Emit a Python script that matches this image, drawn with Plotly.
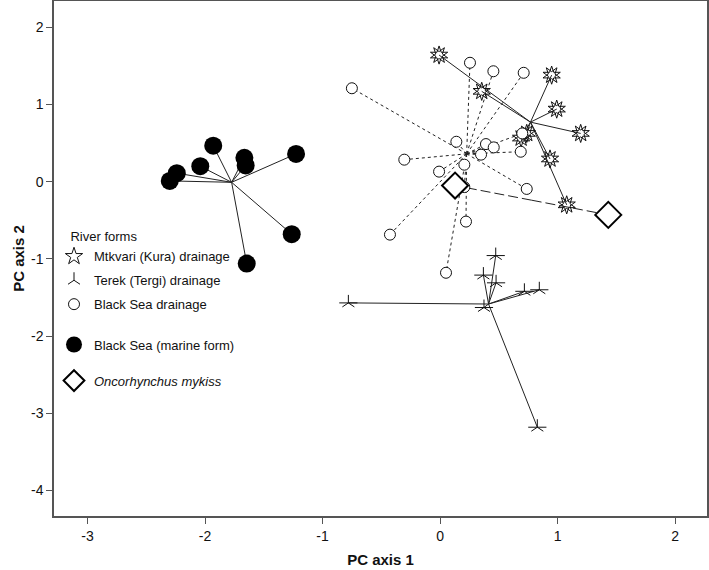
import numpy as np
import plotly.graph_objects as go

# ---- data (PC scores) ----
marine_x = [-1.93, -1.665, -1.654, -2.04, -2.24, -2.30, -1.225, -1.262, -1.645]
marine_y = [0.466, 0.31, 0.21, 0.20, 0.11, 0.01, 0.36, -0.68, -1.06]

kura_x = [-0.008, 0.355, 0.95, 0.993, 1.197, 0.69, 0.738, 0.936, 1.078]
kura_y = [1.64, 1.17, 1.38, 0.94, 0.625, 0.565, 0.625, 0.294, -0.30]

terek_x = [-0.78, 0.374, 0.474, 0.369, 0.477, 0.718, 0.845, 0.828]
terek_y = [-1.57, -1.63, -0.957, -1.21, -1.31, -1.42, -1.40, -3.18]

bsd_x = [0.255, 0.454, 0.712, -0.75, 0.139, 0.391, 0.457, 0.349, 0.687,
         0.70, -0.304, -0.008, 0.207, 0.738, 0.207, -0.426, 0.221, 0.051]
bsd_y = [1.54, 1.43, 1.41, 1.21, 0.517, 0.487, 0.444, 0.35, 0.388,
         0.625, 0.285, 0.13, 0.22, -0.094, -0.07, -0.686, -0.517, -1.18]

mykiss_x = [0.128, 1.432]
mykiss_y = [-0.05, -0.43]

x_ticks = [-3, -2, -1, 0, 1, 2]
x_ticklabels = ["-3", "-2", "-1", "0", "1", "2"]
y_ticks = [-4, -3, -2, -1, 0, 1, 2]
y_ticklabels = ["-4", "-3", "-2", "-1", "0", "1", "2"]

FONT = "Arial, Liberation Sans, sans-serif"
INK = "#111111"


def spokes(xs, ys):
    cx, cy = float(np.mean(xs)), float(np.mean(ys))
    lx, ly = [], []
    for x, y in zip(xs, ys):
        lx += [cx, x, None]
        ly += [cy, y, None]
    return lx, ly


fig = go.Figure()

# spokes (lines to group centroids)
for xs, ys, dash in [(marine_x, marine_y, "solid"), (kura_x, kura_y, "solid"),
                     (terek_x, terek_y, "solid"), (bsd_x, bsd_y, "3px,3px"),
                     (mykiss_x, mykiss_y, "10px,4px")]:
    lx, ly = spokes(xs, ys)
    fig.add_trace(go.Scatter(x=lx, y=ly, mode="lines", showlegend=False,
                             hoverinfo="skip",
                             line=dict(color="#222222", width=1, dash=dash)))

# Mtkvari (Kura) drainage: starburst (two rotated open stars)
fig.add_trace(go.Scatter(x=kura_x, y=kura_y, mode="markers",
                         name="Mtkvari (Kura) drainage", legend="legend",
                         legendgroup="g1",
                         marker=dict(symbol="star-open", size=13, color=INK,
                                     line=dict(color=INK, width=1))))
fig.add_trace(go.Scatter(x=kura_x, y=kura_y, mode="markers", showlegend=False,
                         marker=dict(symbol="star-open", size=13, angle=36,
                                     color=INK,
                                     line=dict(color=INK, width=1))))

# Terek (Tergi) drainage: five-armed asterisk
fig.add_trace(go.Scatter(x=terek_x, y=terek_y, mode="markers",
                         name="Terek (Tergi) drainage", legend="legend",
                         legendgroup="g2",
                         marker=dict(symbol="y-up-open", size=10, color=INK,
                                     line=dict(color=INK, width=1))))
fig.add_trace(go.Scatter(x=terek_x, y=terek_y, mode="markers", showlegend=False,
                         marker=dict(symbol="line-ew-open", size=13, color=INK,
                                     line=dict(color=INK, width=1))))

# Black Sea drainage: open circles
fig.add_trace(go.Scatter(x=bsd_x, y=bsd_y, mode="markers",
                         name="Black Sea drainage", legend="legend",
                         legendgroup="g3",
                         marker=dict(symbol="circle", size=11, color="white",
                                     line=dict(color=INK, width=1))))

# Black Sea marine form: filled circles
fig.add_trace(go.Scatter(x=marine_x, y=marine_y, mode="markers",
                         name="Black Sea (marine form)", legend="legend2",
                         marker=dict(symbol="circle", size=18, color="black",
                                     line=dict(color="black", width=0))))

# Oncorhynchus mykiss: open diamonds
fig.add_trace(go.Scatter(x=mykiss_x, y=mykiss_y, mode="markers",
                         name="<i>Oncorhynchus mykiss</i>", legend="legend3",
                         marker=dict(symbol="diamond", size=20, color="white",
                                     line=dict(color="black", width=2))))

legend_common = dict(bgcolor="rgba(0,0,0,0)", borderwidth=0,
                     font=dict(family=FONT, size=13, color=INK),
                     xanchor="left", yanchor="top", traceorder="grouped",
                     tracegroupgap=4, itemsizing="trace")

axis_common = dict(showgrid=False, zeroline=False, showline=True, mirror=True,
                   linecolor="#555555", linewidth=1.5, ticks="outside",
                   ticklen=6, tickcolor="#555555", automargin=False,
                   tickfont=dict(family=FONT, size=14, color=INK))

fig.update_layout(
    width=709, height=570,
    margin=dict(l=54, r=2, t=1, b=54),
    paper_bgcolor="white", plot_bgcolor="white",
    font=dict(family=FONT, size=13, color=INK),
    legend=dict(x=0.0, y=0.566, title=dict(text="    River forms",
                font=dict(family=FONT, size=13, color=INK)), **legend_common),
    legend2=dict(x=0.0, y=0.362, **legend_common),
    legend3=dict(x=0.0, y=0.292, **legend_common),
    xaxis=dict(range=[-3.285, 2.272], tickvals=x_ticks, ticktext=x_ticklabels,
               title=dict(text="<b>PC axis 1</b>", standoff=12,
                          font=dict(family=FONT, size=15, color=INK)),
               **axis_common),
    yaxis=dict(range=[-4.33, 2.34], tickvals=y_ticks, ticktext=y_ticklabels,
               title=dict(text="<b>PC axis 2</b>", standoff=3,
                          font=dict(family=FONT, size=15, color=INK)),
               **axis_common),
)

fig.write_html("out.html", config={"displayModeBar": False},
               post_script="document.body.style.margin='0px';")
